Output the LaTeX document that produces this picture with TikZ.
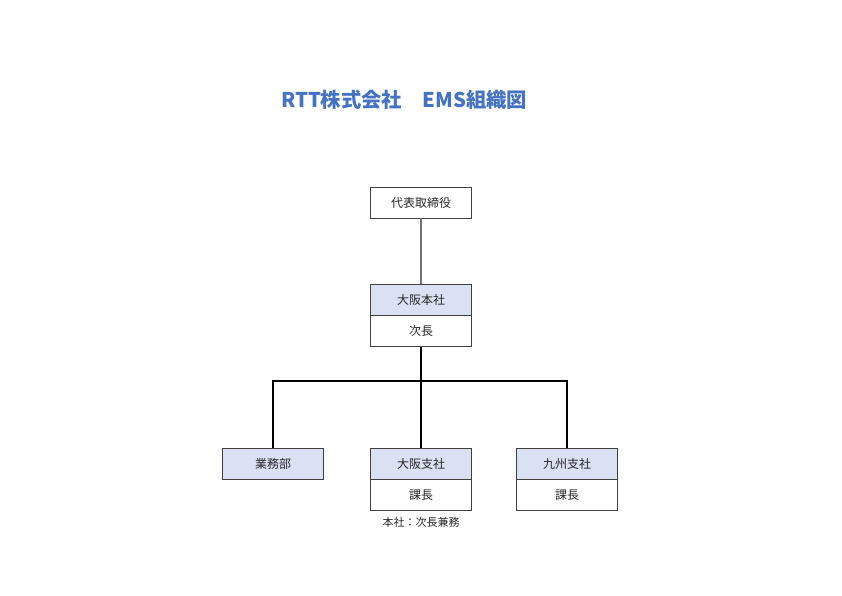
\documentclass[tikz,border=0pt]{standalone}
\usepackage{fontspec}
\newfontfamily\jp{Noto Sans CJK JP}
\begin{document}
\begin{tikzpicture}[x=1pt,y=-1pt,
  box/.style={draw=black!75,line width=0.8pt,minimum width=101pt,minimum height=31pt,inner sep=0pt,font=\jp\fontsize{12}{14}\selectfont,text=black!85},
  head/.style={box,fill=blueFill},
  bus/.style={line width=1.4pt,black},
]
\definecolor{blueFill}{HTML}{D9E1F2}
\definecolor{titleBlue}{HTML}{4472C4}
\useasboundingbox (0,0) rectangle (842,595);
\node[font=\jp\bfseries\fontsize{20.3}{24}\selectfont,text=titleBlue] (title) at (404,100) {RTT株式会社　EMS組織図};
\node[box] (ceo) at (421,202.5) {代表取締役};
\node[head] (osakahq) at (421,299.5) {大阪本社};
\node[box,anchor=north] (jicho) at (osakahq.south) {次長};
\node[head] (gyomu) at (273,463.5) {業務部};
\node[head] (osakash) at (421,463.5) {大阪支社};
\node[box,anchor=north] (kacho1) at (osakash.south) {課長};
\node[head] (kyushu) at (567,463.5) {九州支社};
\node[box,anchor=north] (kacho2) at (kyushu.south) {課長};
\node[font=\jp\fontsize{11}{13}\selectfont,text=black!85] (note) at (421,522) {本社：次長兼務};
\coordinate (bj) at (421,381);
\draw[line width=1.6pt,black!55] (ceo.south) -- (osakahq.north);
\draw[bus] (jicho.south) -- (bj);
\draw[bus] (gyomu.north) |- (bj) -| (kyushu.north);
\draw[bus] (bj) -- (osakash.north);
\end{tikzpicture}
\end{document}
